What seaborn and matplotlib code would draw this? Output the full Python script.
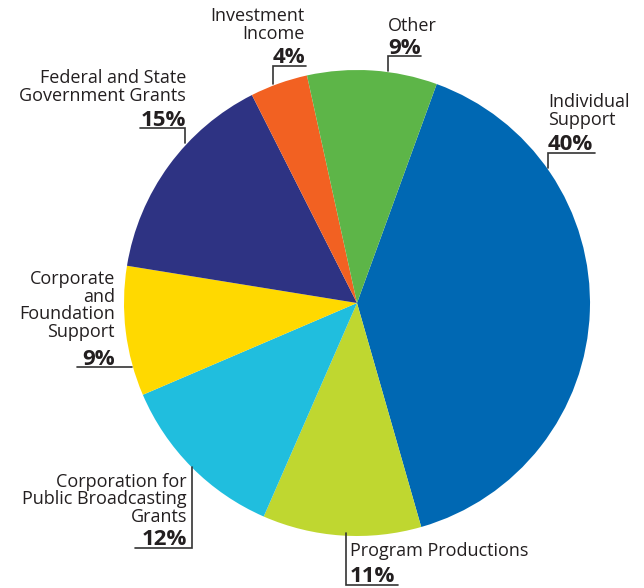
import matplotlib.pyplot as plt
import seaborn as sns

# Revenue sources, clockwise from the top right
sources = ['Individual\nSupport', 'Program Productions',
           'Corporation for\nPublic Broadcasting\nGrants',
           'Corporate\nand\nFoundation\nSupport',
           'Federal and State\nGovernment Grants',
           'Investment\nIncome', 'Other']
shares = [40, 11, 12, 9, 15, 4, 9]
colors = ['#0068b3', '#bfd730', '#20bede', '#ffd900', '#2e3383', '#f26122', '#5db548']

sns.set_theme(style='white')
plt.rcParams['font.family'] = ['Open Sans', 'DejaVu Sans']

W, H = 644, 588
fig = plt.figure(figsize=(W / 100, H / 100), dpi=100)
ax = fig.add_axes([0, 0, 1, 1])

def py(y):
    # pixel row -> data y
    return H - y

ax.pie(shares, colors=colors, startangle=70, counterclock=False,
       center=(357, py(303)), radius=233, frame=True,
       wedgeprops=dict(linewidth=0))
ax.set_xlim(0, W)
ax.set_ylim(0, H)
ax.axis('off')

txt = '#231f20'
# label layout in pixels: text x, align, last name baseline, pct baseline, leader line points
layout = [
    (548, 'left', 125, 150, [(548, 168), (548, 153), (595, 153)]),
    (350, 'left', 556, 582, [(346, 533), (346, 585), (398, 585)]),
    (187, 'right', 522, 545, [(192, 467), (192, 548), (135, 548)]),
    (115, 'right', 337, 365, [(132, 367), (77, 367)]),
    (186, 'right', 101, 126, [(185, 143), (185, 128), (140, 128)]),
    (305, 'right', 39, 63, [(273, 84), (273, 66), (306, 66)]),
    (388, 'left', 31, 54, [(388, 71), (388, 56), (421, 56)]),
]

for name, val, (x, ha, yname, ypct, pts) in zip(sources, shares, layout):
    ax.text(x, py(yname), name, ha=ha, va='baseline', fontsize=13,
            color=txt, linespacing=0.98, multialignment=ha)
    ax.text(x, py(ypct), f'{val}%', ha=ha, va='baseline', fontsize=16,
            fontweight='bold', color=txt)
    ax.plot([p[0] for p in pts], [py(p[1]) for p in pts], color='#333333', lw=1.2,
            solid_joinstyle='miter')

fig.savefig('out.png', dpi=100)
